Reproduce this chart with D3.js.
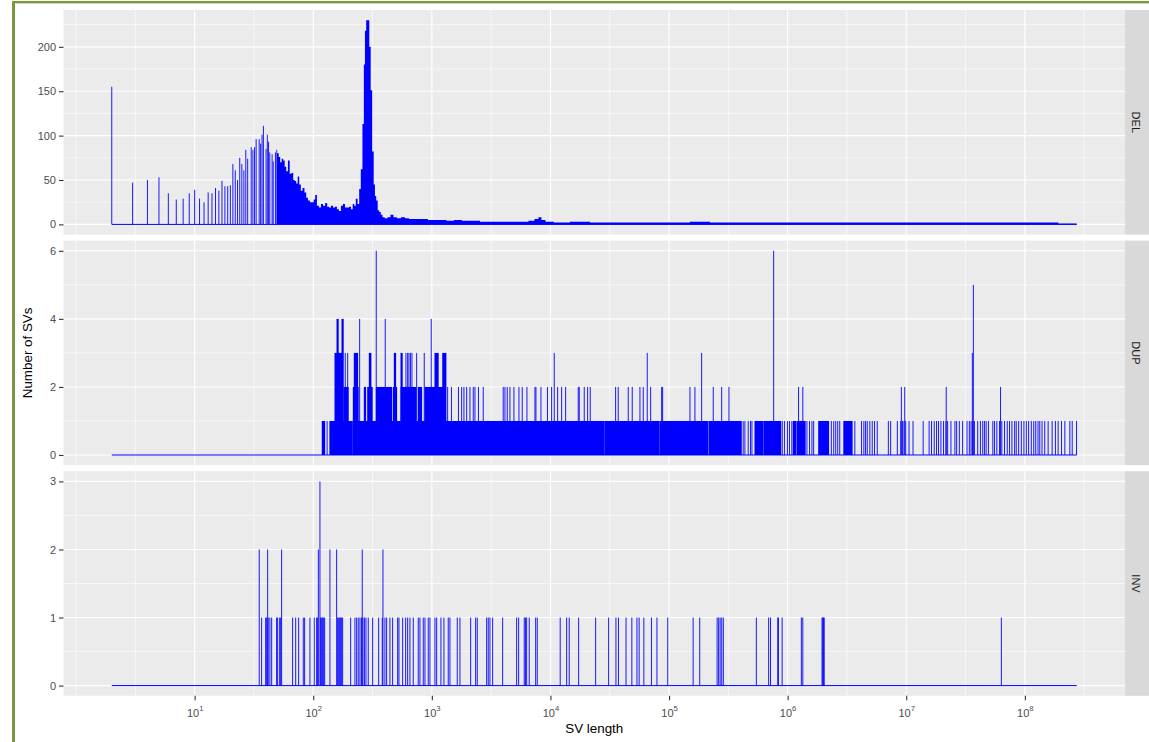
<!DOCTYPE html>
<html>
<head>
<meta charset="utf-8">
<script src="https://cdn.jsdelivr.net/npm/d3@7"></script>
<style>
  body { margin: 0; background: #fff; }
  svg { display: block; font-family: "Liberation Sans", Arial, sans-serif; }
</style>
</head>
<body>
<svg id="chart" width="1149" height="742"></svg>
<script>
// ---- data ---------------------------------------------------------------
const panels = ["DEL", "DUP", "INV"];
const lengthRange = [2, 2.74e8];                 // shortest / longest SV length
const xBreaks = [1e1, 1e2, 1e3, 1e4, 1e5, 1e6, 1e7, 1e8];
const yBreaks = { DEL: [0, 50, 100, 150, 200], DUP: [0, 2, 4, 6], INV: [0, 1, 2, 3] };

// DEL: isolated short lengths [length, count]
const delSpikes = [
  [2,155],[3,47],[4,50],[5,53],[6,35],[7,28],[8,29],[9,35],[10,39],[11,29],[12,25],[13,36],
  [14,35],[15,41],[16,38],[17,49],[18,43],[19,43],[20,44],
  [21,68],[22,61],[23,50],[24,75],[25,68],[26,61],[27,84],[28,74],[30,87],[31,84],[32,87],
  [33,96],[35,96],[36,91],[37,101],[38,111],[40,85],[41,101],[42,93],[43,81],[45,79],[46,71],[48,81]
];
// DEL: densely packed lengths [length, count]
const delBand = [
  [48.9,84],[50.4,80],[51.9,76],[53.4,70],[55.0,74],[56.6,72],[58.3,65],[60.0,60],[62.4,72],
  [64.2,57],[66.8,58],[68.8,50],[70.8,49],[72.9,46],[75.0,54],[77.3,45],[79.9,38],[82.7,41],
  [86.0,36],[88.5,30],[91.9,27],[95.6,25],[99.4,25],[102.4,28],[105.4,33],[109.5,21],[113.9,19],
  [118.4,23],[123.1,21],[129.2,24],[133.0,20],[138.3,19],[143.8,21],[149.4,19],[155.4,20],
  [161.6,17],[168.0,15],[174.6,21],[181.5,23],[188.7,19],[196.2,19],[203.9,20],[212.0,17],
  [218.3,23],[224.7,21],[232.3,29],[240.5,23],[247.6,40],[255.9,62],[264.0,113],[270.2,180],
  [275.5,218],[283.7,230],[293.2,230],[300.7,200],[309.6,151],[318.7,82],[328.1,45],[334.5,32],
  [344.4,27],[354.6,16],[365.1,14],[377.3,11],[390.7,8],[410.2,7],[434.8,8],[460.9,11],
  [488.6,8],[528.1,7],[570.7,8],[616.6,7],[666.6,6],[720.3,6],[793.6,6],[874.8,6],[982.6,5],
  [1104,5],[1241,5],[1421,4],[1660,5],[1939,4],[2309,4],[2804,3],[3404,3],[4134,3],[5020,3],
  [6095,3],[6982,4],[7694,6],[8156,8],[8647,5],[9527,3],[12030,2],[17740,3],[26150,2],
  [38550,2],[56840,2],[83830,2],[123600,2],[182200,3],[268700,2],[584000,2],[1.27e6,2],
  [2.76e6,2],[6.0e6,2],[1.305e7,2],[2.84e7,2],[6.17e7,2],[1.34e8,2],[2.74e8,1]
];

// DUP: stretches of neighbouring lengths [from, to, count]
const dupRuns = [
  [119,125,1],[138,211,1],[215,28200,1],[28700,82000,1],[83500,212000,1],[217000,407000,1],
  [530000,623000,1],[637000,875000,1],[1.115e6,1.166e6,1],[1.196e6,1.407e6,1],
  [1.826e6,2.217e6,1],[2.972e6,3.499e6,1],
  [181.5,197.3,2],[217.5,239.6,2],[269.2,276.6,2],[287.5,314.5,2],[339.9,458.2,2],
  [472.6,505,2],[549,734.5,2],[767.9,820.4,2],[874.7,1248,2],
  [152.4,177,3],[221.7,236.8,3],[296.7,306.6,3],[482,495.3,3],[549,563,3],[1062,1132,3],[1234,1315,3],
  [158.5,162.5,4],[174.6,179.1,4]
];
// DUP: single lengths [length, count]
const dupSpikes = [
  [131,1],[4.22e5,1],[4.36e5,1],[4.65e5,1],[4.86e5,1],[5.0e5,1],[9.01e5,1],[9.40e5,1],[9.96e5,1],
  [1.036e6,1],[1.085e6,1],[1.455e6,1],[1.53e6,1],[1.603e6,1],[1.657e6,1],[2.336e6,1],[2.447e6,1],
  [2.544e6,1],[2.645e6,1],[2.75e6,1],[3.686e6,1],[4.2e6,1],[4.391e6,1],[4.539e6,1],[4.691e6,1],
  [4.934e6,1],[5.169e6,1],[5.405e6,1],[5.696e6,1],[7.066e6,1],[7.388e6,1],[8.414e6,1],[8.986e6,1],
  [9.29e6,1],[9.564e6,1],[9.903e6,1],[1.056e7,1],[1.141e7,1],[1.389e7,1],[1.56e7,1],[1.634e7,1],
  [1.722e7,1],[1.801e7,1],[1.872e7,1],[1.961e7,1],[2.063e7,1],[2.161e7,1],[2.234e7,1],[2.382e7,1],
  [2.574e7,1],[2.661e7,1],[2.804e7,1],[2.989e7,1],[3.255e7,1],[3.404e7,1],[3.519e7,1],[3.637e7,1],
  [3.758e7,1],[4.006e7,1],[4.222e7,1],[4.416e7,1],[4.564e7,1],[4.717e7,1],[4.933e7,1],[5.373e7,1],
  [5.553e7,1],[5.806e7,1],[6.119e7,1],[6.399e7,1],[6.743e7,1],[7.106e7,1],[7.43e7,1],[7.784e7,1],
  [8.203e7,1],[8.462e7,1],[8.866e7,1],[9.343e7,1],[9.827e7,1],[1.029e8,1],[1.076e8,1],[1.134e8,1],
  [1.189e8,1],[1.236e8,1],[1.292e8,1],[1.336e8,1],[1.396e8,1],[1.472e8,1],[1.572e8,1],[1.699e8,1],
  [1.811e8,1],[1.909e8,1],[2.039e8,1],[2.174e8,1],[2.395e8,1],[2.509e8,1],[2.729e8,1],
  [1359,2],[1463,2],[1676,2],[1784,2],[1865,2],[1966,2],[2096,2],[2234,2],[2309,2],[2472,2],
  [2713,2],[3999,2],[4134,2],[4323,2],[4555,2],[4922,2],[5425,2],[5784,2],[6338,2],[7403,2],
  [7548,2],[8316,2],[9434,2],[10230,2],[11500,2],[12430,2],[13430,2],[17160,2],[17490,2],
  [19280,2],[20590,2],[21660,2],[35450,2],[37290,2],[45290,2],[48950,2],[56840,2],[60610,2],
  [69980,2],[86620,2],[88310,2],[150100,2],[165300,2],[235900,2],[277700,2],[320000,2],
  [1.236e6,2],[1.343e6,2],[9.095e6,2],[9.714e6,2],[2.174e7,2],[6.24e7,2],
  [186.1,3],[195.1,3],[604.8,3],[625,3],[641.2,3],[660,3],[679.6,3],[744.6,3],[862.9,3],
  [10770,3],[65520,3],[188300,3],[3.609e7,3],
  [246.2,4],[404.6,4],[988.3,4],
  [3.68e7,5],
  [339.9,6],[762100,6]
];

// INV: single lengths [length, count]
const invSpikes = [
  [35.05,2],[41.26,2],[54.14,2],[110.4,2],[138.3,2],[157.5,2],[258.9,2],[387.0,2],[113.9,3],
  [36.7,1],[39.7,1],[40.5,1],[41.7,1],[43.1,1],[44.6,1],[49.1,1],[50.1,1],[52.1,1],[53.1,1],
  [67.0,1],[71.1,1],[75.3,1],[82.4,1],[84.6,1],[93.8,1],[102.0,1],[106.8,1],[108.9,1],[115.4,1],
  [117.7,1],[120.0,1],[122.4,1],[124.8,1],[160.6,1],[163.8,1],[167.0,1],[170.2,1],[173.6,1],
  [177.0,1],[206.8,1],[224.7,1],[232.3,1],[239.6,1],[247.6,1],[254.9,1],[262.5,1],[270.2,1],
  [278.2,1],[290.9,1],[316.9,1],[356.0,1],[381.8,1],[402.2,1],[415.7,1],[443.3,1],[467.1,1],
  [514.8,1],[528.1,1],[567.4,1],[601.4,1],[625.2,1],[653.6,1],[697.0,1],[767.9,1],[793.6,1],
  [846.4,1],[874.7,1],[932.6,1],[963.9,1],[1062,1],[1098,1],[1193,1],[1265,1],[1375,1],
  [1421,1],[1638,1],[1726,1],[2125,1],[2341,1],[2415,1],[2898,1],[2990,1],[3090,1],[3255,1],
  [3954,1],[5188,1],[5395,1],[6013,1],[6155,1],[6300,1],[6625,1],[7505,1],[7742,1],[12090,1],
  [13700,1],[14400,1],[17290,1],[24050,1],[30950,1],[35670,1],[37450,1],[43400,1],[48580,1],
  [53620,1],[55960,1],[61330,1],[71070,1],[79070,1],[97500,1],[159700,1],[181500,1],
  [254400,1],[261900,1],[269700,1],[278200,1],[287000,1],[544600,1],[691600,1],[717600,1],
  [825200,1],[836500,1],[898600,1],[1.305e6,1],[1.343e6,1],[1.95e6,1],[1.977e6,1],
  [2.004e6,1],[2.035e6,1],[6.338e7,1]
];

// ---- layout -------------------------------------------------------------
const W = 1149, H = 742;
const panelLeft = 63.5, panelRight = 1125;
const panelTop = 10, panelH = 224.6, panelGap = 6;
const stripW = 24;
const lineColor = "#0000ff";
const textColor = "#4d4d4d";

const svg = d3.select("#chart");
svg.append("rect").attr("width", W).attr("height", H).attr("fill", "#ffffff");
// frame around the figure
svg.append("rect").attr("x", 12).attr("y", 1).attr("width", W - 12).attr("height", 2.4).attr("fill", "#7a9a3f");
svg.append("rect").attr("x", 12).attr("y", 1).attr("width", 3).attr("height", H).attr("fill", "#7a9a3f");

// log x scale, padded by 5% on each side of the data range
const lmin = Math.log10(lengthRange[0]), lmax = Math.log10(lengthRange[1]);
const pad = 0.05 * (lmax - lmin);
const x = d3.scaleLog().domain([10 ** (lmin - pad), 10 ** (lmax + pad)]).range([panelLeft, panelRight]);

// minor x grid: halfway (in log space) between breaks, plus one break beyond each end
const lb = xBreaks.map(Math.log10);
const step = lb[1] - lb[0];
const ext = [lb[0] - step, ...lb, lb[lb.length - 1] + step];
const xMinor = [];
ext.forEach((v, i) => {
  if (!lb.includes(v)) xMinor.push(10 ** v);
  if (i < ext.length - 1) xMinor.push(10 ** ((v + ext[i + 1]) / 2));
});
const xMinorIn = xMinor.filter(v => v >= x.domain()[0] && v <= x.domain()[1]);

const dataMax = {
  DEL: d3.max([...delSpikes, ...delBand], d => d[1]),
  DUP: d3.max([...dupRuns.map(d => d[2]), ...dupSpikes.map(d => d[1])]),
  INV: d3.max(invSpikes, d => d[1])
};

panels.forEach((name, i) => {
  const top = panelTop + i * (panelH + panelGap);
  const bottom = top + panelH;
  const maxV = dataMax[name];
  const y = d3.scaleLinear().domain([-0.05 * maxV, 1.05 * maxV]).range([bottom, top]);
  const g = svg.append("g");

  g.append("rect").attr("x", panelLeft).attr("y", top)
    .attr("width", panelRight - panelLeft).attr("height", panelH).attr("fill", "#ebebeb");

  // minor grid
  const br = yBreaks[name];
  const yMinor = d3.pairs(br).map(([a, b]) => (a + b) / 2);
  yMinor.push(br[br.length - 1] + (br[1] - br[0]) / 2);
  const yMinorIn = yMinor.filter(v => v >= y.domain()[0] && v <= y.domain()[1]);
  g.selectAll(".ymin").data(yMinorIn).join("line")
    .attr("x1", panelLeft).attr("x2", panelRight)
    .attr("y1", d => y(d)).attr("y2", d => y(d))
    .attr("stroke", "#fff").attr("stroke-width", 0.6);
  g.selectAll(".xmin").data(xMinorIn).join("line")
    .attr("x1", d => x(d)).attr("x2", d => x(d))
    .attr("y1", top).attr("y2", bottom)
    .attr("stroke", "#fff").attr("stroke-width", 0.6);
  // major grid
  g.selectAll(".ymaj").data(br).join("line")
    .attr("x1", panelLeft).attr("x2", panelRight)
    .attr("y1", d => y(d)).attr("y2", d => y(d))
    .attr("stroke", "#fff").attr("stroke-width", 1.1);
  g.selectAll(".xmaj").data(xBreaks).join("line")
    .attr("x1", d => x(d)).attr("x2", d => x(d))
    .attr("y1", top).attr("y2", bottom)
    .attr("stroke", "#fff").attr("stroke-width", 1.1);

  // clip to panel
  const clipId = "clip-" + name;
  svg.append("clipPath").attr("id", clipId).append("rect")
    .attr("x", panelLeft).attr("y", top).attr("width", panelRight - panelLeft).attr("height", panelH);
  const dg = g.append("g").attr("clip-path", `url(#${clipId})`);

  // zero line across the whole length range
  dg.append("line")
    .attr("x1", x(lengthRange[0])).attr("x2", x(lengthRange[1]))
    .attr("y1", y(0)).attr("y2", y(0))
    .attr("stroke", lineColor).attr("stroke-width", 1);

  const drawSpikes = (arr) => {
    dg.append("g").selectAll("line").data(arr).join("line")
      .attr("x1", d => x(d[0])).attr("x2", d => x(d[0]))
      .attr("y1", y(0)).attr("y2", d => y(d[1]))
      .attr("stroke", lineColor).attr("stroke-width", 0.9);
  };

  if (name === "DEL") {
    drawSpikes(delSpikes);
    const area = d3.area()
      .x(d => x(d[0])).y0(y(0)).y1(d => y(d[1]))
      .curve(d3.curveStep);
    dg.append("path").datum(delBand).attr("d", area).attr("fill", lineColor);
  } else if (name === "DUP") {
    dg.append("g").selectAll("rect").data(dupRuns).join("rect")
      .attr("x", d => x(d[0]) - 0.45)
      .attr("width", d => Math.max(0.9, x(d[1]) - x(d[0]) + 0.9))
      .attr("y", d => y(d[2])).attr("height", d => y(0) - y(d[2]))
      .attr("fill", lineColor);
    drawSpikes(dupSpikes);
  } else {
    drawSpikes(invSpikes);
  }

  // y axis
  const ay = svg.append("g").attr("transform", `translate(${panelLeft},0)`)
    .call(d3.axisLeft(y).tickValues(br).tickSize(4.5).tickPadding(3).tickFormat(d3.format("d")));
  ay.attr("font-family", null).attr("font-size", null);
  ay.select(".domain").remove();
  ay.selectAll(".tick line").attr("stroke", "#333333").attr("stroke-width", 1.1);
  ay.selectAll(".tick text").attr("fill", textColor).attr("font-size", 11);

  // facet strip
  svg.append("rect").attr("x", panelRight).attr("y", top)
    .attr("width", stripW).attr("height", panelH).attr("fill", "#d9d9d9");
  svg.append("text")
    .attr("transform", `translate(${panelRight + 11},${top + panelH / 2}) rotate(90)`)
    .attr("text-anchor", "middle").attr("dominant-baseline", "central")
    .attr("font-size", 11).attr("fill", "#1a1a1a").text(name);

  if (i === panels.length - 1) {
    const ax = svg.append("g").attr("transform", `translate(0,${bottom})`)
      .call(d3.axisBottom(x).tickValues(xBreaks).tickSize(4.5).tickFormat(() => ""));
    ax.attr("font-family", null).attr("font-size", null);
    ax.select(".domain").remove();
    ax.selectAll(".tick line").attr("stroke", "#333333").attr("stroke-width", 1.1);
    ax.selectAll(".tick text").each(function (d) {
      const t = d3.select(this).attr("fill", textColor).attr("font-size", 11)
        .attr("y", 21).attr("dy", null);
      t.append("tspan").text("10");
      t.append("tspan").attr("font-size", 7.7).attr("dy", -6).text(Math.round(Math.log10(d)));
    });
  }
});

// axis titles
svg.append("text").attr("x", (panelLeft + panelRight) / 2).attr("y", 733)
  .attr("text-anchor", "middle").attr("font-size", 13.4).attr("fill", "#000").text("SV length");
const plotMid = panelTop + (3 * panelH + 2 * panelGap) / 2;
svg.append("text").attr("transform", `translate(32,${plotMid}) rotate(-90)`)
  .attr("text-anchor", "middle").attr("font-size", 13.4).attr("fill", "#000").text("Number of SVs");
</script>
</body>
</html>
